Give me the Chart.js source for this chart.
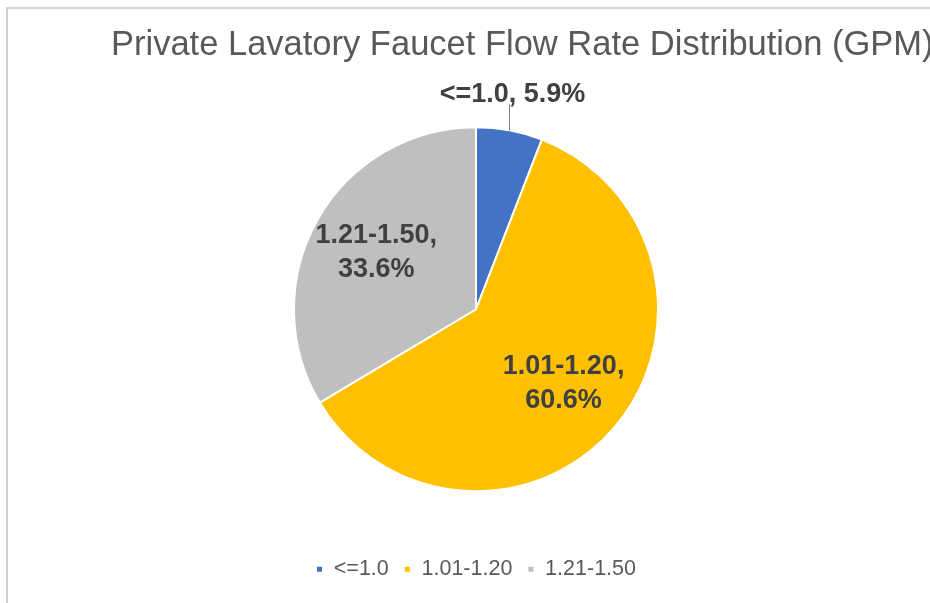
<!DOCTYPE html>
<html>
<head>
<meta charset="utf-8">
<title>Private Lavatory Faucet Flow Rate Distribution</title>
<script src="https://cdn.jsdelivr.net/npm/chart.js@4.4.0/dist/chart.umd.min.js"></script>
<style>
  html, body { margin: 0; padding: 0; background: #fff; overflow: hidden; }
  .frame {
    position: absolute; left: 6px; top: 7px; width: 940px; height: 620px;
    border-left: 2px solid #cfcfcf; border-top: 2px solid #d6d6d6;
  }
  .wrap { position: absolute; left: 0; top: 0; width: 930px; height: 603px; }
</style>
</head>
<body>
<div class="frame"></div>
<div class="wrap"><canvas id="flowChart"></canvas></div>
<script>
// === данные ===
const categories = ["<=1.0", "1.01-1.20", "1.21-1.50"];
const shares = [5.9, 60.6, 33.6];
const sliceColors = ["#4472C4", "#FFC000", "#BFBFBF"];
const chartTitle = "Private Lavatory Faucet Flow Rate Distribution (GPM)";

const FONT = "'Liberation Sans', Arial, Helvetica, sans-serif";
const LABEL_COLOR = "#404040";

// заголовок рисуем сами: встроенный сжимает текст до ширины блока
const wideTitle = {
  id: "wideTitle",
  afterDraw(chart) {
    const ctx = chart.ctx;
    ctx.save();
    ctx.font = "34.5px " + FONT;
    ctx.fillStyle = "#595959";
    ctx.textAlign = "left";
    ctx.textBaseline = "middle";
    ctx.fillText(chartTitle, 111, 45);
    ctx.restore();
  }
};

// подписи секторов: категория + процент
const sliceLabels = {
  id: "sliceLabels",
  afterDatasetsDraw(chart) {
    const ctx = chart.ctx;
    const meta = chart.getDatasetMeta(0);
    ctx.save();
    ctx.font = "bold 27px " + FONT;
    ctx.fillStyle = LABEL_COLOR;
    ctx.textAlign = "center";
    ctx.textBaseline = "middle";
    meta.data.forEach((arc, i) => {
      const { x, y, startAngle, endAngle, outerRadius } = arc.getProps(
        ["x", "y", "startAngle", "endAngle", "outerRadius"], true);
      const mid = (startAngle + endAngle) / 2;
      const cos = Math.cos(mid), sin = Math.sin(mid);
      const pct = shares[i].toFixed(1) + "%";
      if (shares[i] < 10) {
        // маленький сектор — подпись снаружи с выноской
        const ex = x + outerRadius * cos;
        const ey = y + outerRadius * sin;
        const ly = y - outerRadius - 33;
        ctx.strokeStyle = "#7f7f7f";
        ctx.lineWidth = 1;
        ctx.beginPath();
        ctx.moveTo(ex, ey);
        ctx.lineTo(ex, ly + 10);
        ctx.stroke();
        ctx.fillText(categories[i] + ", " + pct, ex + 3, ly);
      } else {
        const r = outerRadius * 0.63;
        const lx = x + r * cos;
        const ly = y + r * sin;
        ctx.fillText(categories[i] + ",", lx, ly - 17);
        ctx.fillText(pct, lx, ly + 17);
      }
    });
    ctx.restore();
  }
};

const chart = new Chart(document.getElementById("flowChart"), {
  type: "pie",
  data: {
    labels: categories,
    datasets: [{
      data: shares,
      backgroundColor: sliceColors,
      borderColor: "#ffffff",
      borderWidth: 2,
      hoverOffset: 0,
      radius: 182
    }]
  },
  options: {
    responsive: true,
    maintainAspectRatio: false,
    animation: false,
    layout: { padding: { left: 111, right: 89, top: 75, bottom: 13 } },
    plugins: {
      title: { display: false },
      legend: {
        position: "bottom",
        labels: {
          boxWidth: 7,
          boxHeight: 7,
          padding: 15,
          color: "#595959",
          font: { family: FONT, size: 21.5 }
        }
      },
      tooltip: { enabled: false }
    }
  },
  plugins: [sliceLabels, wideTitle]
});
</script>
</body>
</html>
